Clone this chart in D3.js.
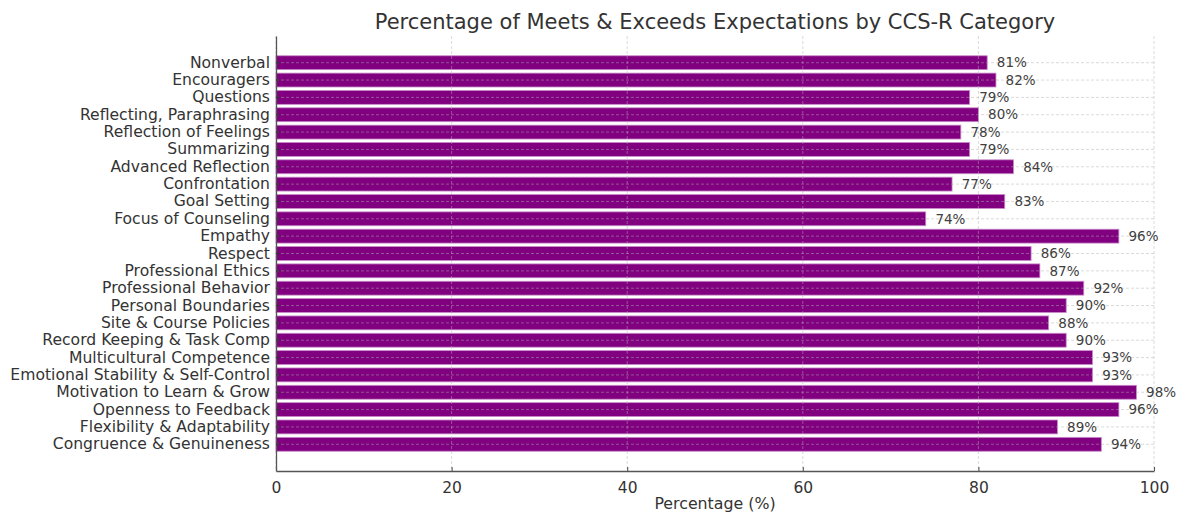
<!DOCTYPE html>
<html>
<head>
<meta charset="utf-8">
<script src="https://cdn.jsdelivr.net/npm/d3@7"></script>
<style>
  html, body { margin: 0; padding: 0; background: #fff; }
  svg { display: block; font-family: "DejaVu Sans", sans-serif; }
</style>
</head>
<body>
<svg id="chart" width="1183" height="514"></svg>
<script>
// CCS-R categories, listed top to bottom
const categories = [
  "Nonverbal", "Encouragers", "Questions", "Reflecting, Paraphrasing",
  "Reflection of Feelings", "Summarizing", "Advanced Reflection", "Confrontation",
  "Goal Setting", "Focus of Counseling", "Empathy", "Respect",
  "Professional Ethics", "Professional Behavior", "Personal Boundaries",
  "Site & Course Policies", "Record Keeping & Task Comp", "Multicultural Competence",
  "Emotional Stability & Self-Control", "Motivation to Learn & Grow",
  "Openness to Feedback", "Flexibility & Adaptability", "Congruence & Genuineness"
];
// Percentage rated Meets or Exceeds Expectations
const percentages = [81, 82, 79, 80, 78, 79, 84, 77, 83, 74, 96, 86, 87, 92, 90, 88, 90, 93, 93, 98, 96, 89, 94];
const xTicks = [0, 20, 40, 60, 80, 100];

const titleText = "Percentage of Meets & Exceeds Expectations by CCS-R Category";
const xLabelText = "Percentage (%)";

const svg = d3.select("#chart");
const plotLeft = 276, plotRight = 1154, plotTop = 36, plotBottom = 471;
const textColor = "#333333";

const x = d3.scaleLinear().domain([0, 100]).range([plotLeft, plotRight]);
const y = d3.scaleBand().domain(categories).range([plotTop, plotBottom])
  .paddingInner(0.2).paddingOuter(1.14);

// bars
svg.append("g").selectAll("rect")
  .data(categories)
  .join("rect")
  .attr("x", x(0))
  .attr("y", d => y(d))
  .attr("width", (d, i) => x(percentages[i]) - x(0))
  .attr("height", y.bandwidth())
  .attr("fill", "#800080")
  .attr("stroke", "#c98ac9")
  .attr("stroke-width", 0.8);

// dashed grid drawn above the bars
const grid = svg.append("g").attr("stroke", "#b0b0b0").attr("stroke-opacity", 0.6)
  .attr("stroke-width", 0.8).attr("stroke-dasharray", "3,2");
grid.selectAll("line.gx").data(xTicks).join("line")
  .attr("class", "gx")
  .attr("x1", d => x(d)).attr("x2", d => x(d))
  .attr("y1", plotTop).attr("y2", plotBottom);
grid.selectAll("line.gy").data(categories).join("line")
  .attr("class", "gy")
  .attr("x1", plotLeft).attr("x2", plotRight)
  .attr("y1", d => y(d) + y.bandwidth() / 2).attr("y2", d => y(d) + y.bandwidth() / 2);

// value labels
svg.append("g").selectAll("text")
  .data(categories)
  .join("text")
  .attr("x", (d, i) => x(percentages[i] + 1.1))
  .attr("y", d => y(d) + y.bandwidth() / 2)
  .attr("dy", "0.35em")
  .attr("font-size", 13.5)
  .attr("fill", "#404040")
  .text((d, i) => percentages[i] + "%");

// x axis (ticks point inward)
const xAxis = svg.append("g")
  .attr("transform", `translate(0,${plotBottom})`)
  .call(d3.axisBottom(x).tickValues(xTicks).tickSizeInner(-4).tickSizeOuter(0).tickPadding(11));
xAxis.select(".domain").attr("stroke", "#555").attr("stroke-width", 1.3);
xAxis.selectAll(".tick line").attr("stroke", "#555").attr("stroke-width", 1.1);
xAxis.selectAll("text").attr("font-size", 15.5).attr("fill", textColor)
  .attr("font-family", "DejaVu Sans, sans-serif");

// y axis (ticks point inward)
const yAxis = svg.append("g")
  .attr("transform", `translate(${plotLeft},0)`)
  .call(d3.axisLeft(y).tickSizeInner(-4).tickSizeOuter(0).tickPadding(6));
yAxis.select(".domain").attr("stroke", "#555").attr("stroke-width", 1.3);
yAxis.selectAll(".tick line").attr("stroke", "#333").attr("stroke-width", 1.1);
yAxis.selectAll("text").attr("font-size", 15.6).attr("fill", textColor)
  .attr("font-family", "DejaVu Sans, sans-serif");

// title and axis label
svg.append("text")
  .attr("x", (plotLeft + plotRight) / 2).attr("y", 29)
  .attr("text-anchor", "middle").attr("font-size", 21).attr("fill", textColor)
  .text(titleText);
svg.append("text")
  .attr("x", (plotLeft + plotRight) / 2).attr("y", 509)
  .attr("text-anchor", "middle").attr("font-size", 15.8).attr("fill", textColor)
  .text(xLabelText);
</script>
</body>
</html>
